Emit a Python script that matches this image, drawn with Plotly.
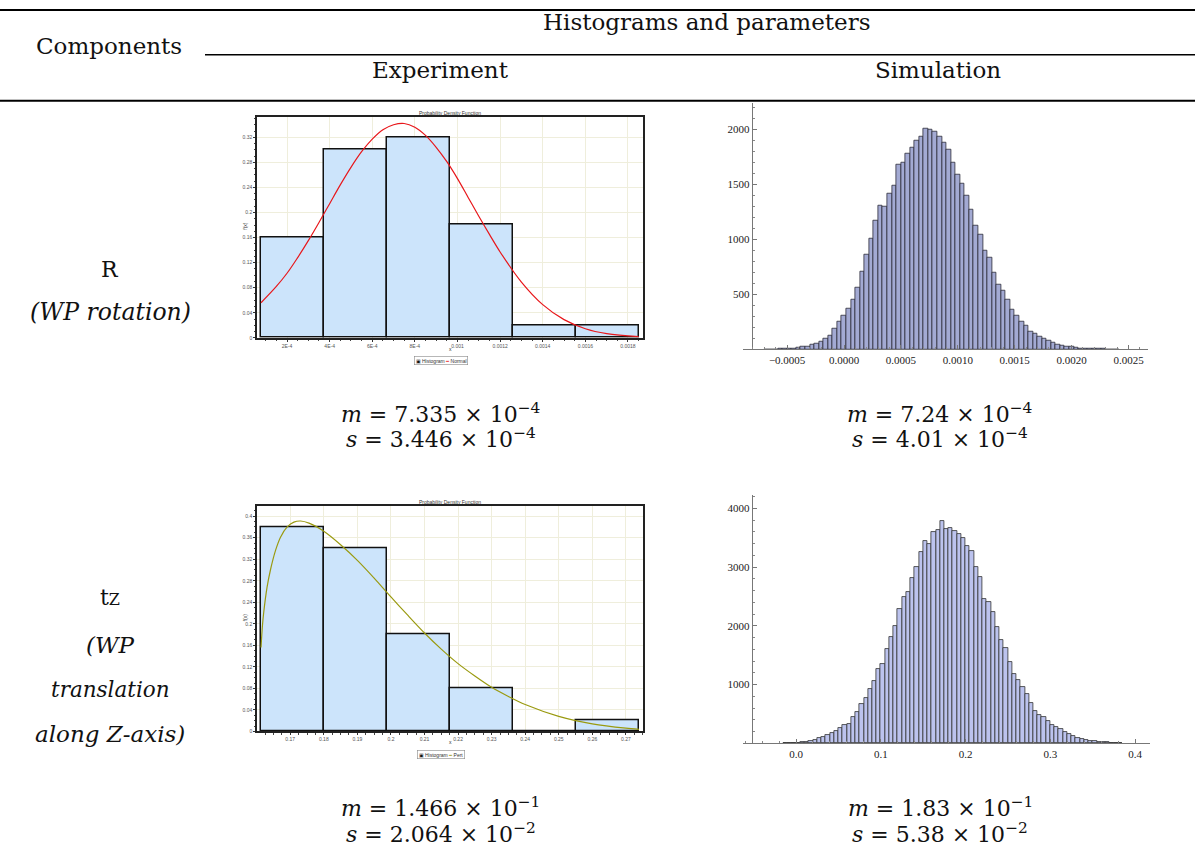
import plotly.graph_objects as go

W, H = 1195, 858

# ------------------------------
# Data
# ------------------------------

# Experiment, R: relative frequency per bin + fitted normal curve
exp_r_bin_start = 0.0000765
exp_r_bin_width = 0.0002956
exp_r_freq = [0.16, 0.30, 0.32, 0.18, 0.02, 0.02]
exp_r_fit_x = [0.000078, 0.00015, 0.0002, 0.00025, 0.0003, 0.00035, 0.0004, 0.00045,
               0.0005, 0.00055, 0.0006, 0.00065, 0.0007, 0.00075, 0.0008, 0.00085,
               0.0009, 0.00095, 0.001, 0.00105, 0.0011, 0.00115, 0.0012, 0.0013,
               0.0014, 0.0015, 0.0016, 0.0017, 0.00185]
exp_r_fit_y = [0.056, 0.082, 0.103, 0.128, 0.155, 0.184, 0.214, 0.244,
               0.272, 0.297, 0.317, 0.332, 0.340, 0.342, 0.336, 0.323,
               0.304, 0.281, 0.254, 0.224, 0.194, 0.165, 0.137, 0.089,
               0.053, 0.029, 0.0145, 0.0067, 0.0018]
exp_r_xtickvals = [0.0002, 0.0004, 0.0006, 0.0008, 0.001, 0.0012, 0.0014, 0.0016, 0.0018]
exp_r_xticktext = ["2E-4", "4E-4", "6E-4", "8E-4", "0.001", "0.0012", "0.0014", "0.0016", "0.0018"]
exp_r_ytickvals = [0, 0.04, 0.08, 0.12, 0.16, 0.2, 0.24, 0.28, 0.32]
exp_r_yticktext = ["0", "0.04", "0.08", "0.12", "0.16", "0.2", "0.24", "0.28", "0.32"]

# Experiment, tz: relative frequency per bin + fitted Pert curve
exp_t_bin_start = 0.1613
exp_t_bin_width = 0.01878
exp_t_freq = [0.38, 0.34, 0.18, 0.08, 0.001, 0.02]
exp_t_fit_x = [0.1613, 0.1617, 0.1621, 0.1631, 0.1641, 0.1656, 0.1671, 0.1691,
               0.1711, 0.1731, 0.1756, 0.18, 0.185, 0.19, 0.195, 0.20,
               0.205, 0.21, 0.215, 0.22, 0.225, 0.23, 0.235, 0.24,
               0.25, 0.26, 0.27, 0.2739]
exp_t_fit_y = [0.156, 0.195, 0.221, 0.268, 0.300, 0.336, 0.361, 0.380,
               0.389, 0.391, 0.387, 0.372, 0.347, 0.318, 0.285, 0.250,
               0.216, 0.183, 0.153, 0.126, 0.103, 0.082, 0.065, 0.050,
               0.028, 0.014, 0.006, 0.004]
exp_t_xtickvals = [0.17, 0.18, 0.19, 0.2, 0.21, 0.22, 0.23, 0.24, 0.25, 0.26, 0.27]
exp_t_xticktext = ["0.17", "0.18", "0.19", "0.2", "0.21", "0.22", "0.23", "0.24", "0.25", "0.26", "0.27"]
exp_t_ytickvals = [0, 0.04, 0.08, 0.12, 0.16, 0.2, 0.24, 0.28, 0.32, 0.36, 0.4]
exp_t_yticktext = ["0", "0.04", "0.08", "0.12", "0.16", "0.2", "0.24", "0.28", "0.32", "0.36", "0.4"]

# Simulation, R: counts per bin
sim_r_first_center = -0.00068
sim_r_bin_width = 0.00004
sim_r_counts = [1, 2, 3, 5, 6, 9, 12, 16, 22, 30,
                40, 55, 72, 95, 130, 185, 250, 310, 370, 450,
                560, 710, 860, 1010, 1170, 1310, 1300, 1420, 1490, 1680,
                1700, 1780, 1830, 1900, 1930, 2010, 2000, 1980, 1935, 1880,
                1815, 1700, 1590, 1505, 1400, 1270, 1125, 1040, 900, 830,
                700, 590, 530, 450, 365, 310, 250, 220, 165, 140,
                115, 98, 80, 60, 42, 33, 27, 22, 17, 12,
                10, 8, 6, 5, 4, 3, 2, 2]

# Simulation, tz: counts per bin
sim_t_first_center = -0.0125
sim_t_bin_width = 0.005
sim_t_counts = [5, 6, 10, 12, 18, 30, 40, 60, 85, 115,
                150, 175, 215, 255, 310, 325, 450, 540, 665, 780,
                920, 1060, 1270, 1345, 1610, 1810, 2005, 2290, 2490, 2570,
                2810, 3005, 3250, 3450, 3390, 3605, 3635, 3790, 3645, 3660,
                3620, 3565, 3490, 3365, 3280, 3000, 2825, 2465, 2400, 2235,
                1975, 1755, 1615, 1390, 1175, 1075, 960, 845, 680, 555,
                480, 450, 385, 315, 280, 245, 200, 160, 130, 90,
                72, 56, 45, 34, 28, 18, 16, 12, 10, 6]

# Parameters
exp_r_stats = ["<i>m</i> = 7.335 × 10<sup>−4</sup>", "<i>s</i> = 3.446 × 10<sup>−4</sup>"]
sim_r_stats = ["<i>m</i> = 7.24 × 10<sup>−4</sup>", "<i>s</i> = 4.01 × 10<sup>−4</sup>"]
exp_t_stats = ["<i>m</i> = 1.466 × 10<sup>−1</sup>", "<i>s</i> = 2.064 × 10<sup>−2</sup>"]
sim_t_stats = ["<i>m</i> = 1.83 × 10<sup>−1</sup>", "<i>s</i> = 5.38 × 10<sup>−2</sup>"]

# colours
exp_fill = "#cce4fb"
serif = "DejaVu Serif"


def px_x(px):
    return px / W


def px_y(py):
    return 1 - py / H


fig = go.Figure()

# ------------------------------
# Traces
# ------------------------------
fig.add_trace(go.Bar(
    x0=exp_r_bin_start + exp_r_bin_width / 2, dx=exp_r_bin_width, y=exp_r_freq,
    width=exp_r_bin_width, marker=dict(color=exp_fill, line=dict(color="#111", width=1.5)),
    xaxis="x", yaxis="y",
))
fig.add_trace(go.Scatter(
    x=exp_r_fit_x, y=exp_r_fit_y, mode="lines", line=dict(color="#e8171b", width=1.2, shape="spline"),
    xaxis="x", yaxis="y",
))
fig.add_trace(go.Bar(
    x0=sim_r_first_center, dx=sim_r_bin_width, y=sim_r_counts,
    width=sim_r_bin_width, marker=dict(color="#a3aad3", line=dict(color="#2c2c38", width=0.8)),
    xaxis="x2", yaxis="y2",
))
fig.add_trace(go.Bar(
    x0=exp_t_bin_start + exp_t_bin_width / 2, dx=exp_t_bin_width, y=exp_t_freq,
    width=exp_t_bin_width, marker=dict(color=exp_fill, line=dict(color="#111", width=1.5)),
    xaxis="x3", yaxis="y3",
))
fig.add_trace(go.Scatter(
    x=exp_t_fit_x, y=exp_t_fit_y, mode="lines", line=dict(color="#9a9a10", width=1.2, shape="spline", smoothing=0.8),
    xaxis="x3", yaxis="y3",
))
fig.add_trace(go.Bar(
    x0=sim_t_first_center, dx=sim_t_bin_width, y=sim_t_counts,
    width=sim_t_bin_width, marker=dict(color="#bcc3ee", line=dict(color="#333", width=0.8)),
    xaxis="x4", yaxis="y4",
))


# ------------------------------
# Axes
# ------------------------------
def exp_axes(xdom, ydom, xrange, yrange, xtv, xtt, ytv, ytt, xminor, yminor, xa, ya):
    tickfont = dict(family="Liberation Sans", size=5, color="#555")
    xax = dict(
        domain=xdom, range=xrange, anchor=ya, showline=True, mirror=True, linecolor="#222",
        linewidth=1.5, showgrid=True, gridcolor="#efeedc", gridwidth=1, zeroline=False,
        tickmode="array", tickvals=xtv, ticktext=xtt, ticks="outside", ticklen=2,
        tickcolor="#333", tickfont=tickfont, fixedrange=True,
        minor=dict(dtick=xminor, ticks="outside", ticklen=1.5, tickcolor="#444", showgrid=False),
    )
    yax = dict(
        domain=ydom, range=yrange, anchor=xa, showline=True, mirror=True, linecolor="#222",
        linewidth=1.5, showgrid=True, gridcolor="#efeedc", gridwidth=1, zeroline=False,
        tickmode="array", tickvals=ytv, ticktext=ytt, ticks="outside", ticklen=2,
        tickcolor="#333", tickfont=tickfont, fixedrange=True,
        minor=dict(dtick=yminor, ticks="outside", ticklen=1.5, tickcolor="#444", showgrid=False),
    )
    return xax, yax


def sim_axes(xdom, ydom, xrange, yrange, yaxis_pos, xdtick, xminor, xfmt, ytv, yminor, xa, ya):
    tickfont = dict(family="Liberation Serif", size=11, color="#222")
    xax = dict(
        domain=xdom, range=xrange, anchor=ya, showline=True, linecolor="#777", linewidth=1,
        showgrid=False, zeroline=False, dtick=xdtick, tick0=0, tickformat=xfmt,
        ticks="inside", ticklen=4, tickcolor="#777", tickfont=tickfont, fixedrange=True,
        minor=dict(dtick=xminor, tick0=0, ticks="inside", ticklen=2, tickcolor="#888"),
    )
    yax = dict(
        domain=ydom, range=yrange, anchor="free", position=yaxis_pos, showline=True,
        linecolor="#777", linewidth=1, showgrid=False, zeroline=False, tickmode="array",
        tickvals=ytv, ticks="inside", ticklen=4, tickcolor="#777", tickfont=tickfont,
        fixedrange=True,
        minor=dict(tickmode="linear", dtick=yminor, tick0=0, ticks="inside", ticklen=2, tickcolor="#888"),
    )
    return xax, yax


x1, y1 = exp_axes([px_x(257), px_x(643)], [px_y(339), px_y(117)], [0.0000592, 0.0018705], [0, 0.353],
                  exp_r_xtickvals, exp_r_xticktext, exp_r_ytickvals, exp_r_yticktext,
                  0.00005, 0.01, "x", "y")
x3, y3 = exp_axes([px_x(257), px_x(643)], [px_y(734), px_y(508)], [0.1601, 0.2751], [0, 0.4185],
                  exp_t_xtickvals, exp_t_xticktext, exp_t_ytickvals, exp_t_yticktext,
                  0.0025, 0.01, "x3", "y3")
x2, y2 = sim_axes([px_x(743.3), px_x(1148.3)], [px_y(350.7), px_y(103)], [-0.000885, 0.002674], [0, 2242],
                  px_x(751.7), 0.0005, 0.0001, ".4f", [500, 1000, 1500, 2000], 100, "x2", "y2")
x4, y4 = sim_axes([px_x(743.3), px_x(1150)], [px_y(746), px_y(496.7)], [-0.0622, 0.4177], [0, 4226],
                  px_x(751.7), 0.1, 0.02, ".1f", [1000, 2000, 3000, 4000], 200, "x4", "y4")

fig.update_layout(xaxis=x1, yaxis=y1, xaxis2=x2, yaxis2=y2, xaxis3=x3, yaxis3=y3, xaxis4=x4, yaxis4=y4)

# ------------------------------
# Table rules and text
# ------------------------------
rules = [(0, 1195, 10, 2), (205, 1195, 55, 1.6), (0, 1195, 101, 2)]
shapes = []
for xa_, xb_, yy, lw in rules:
    shapes.append(dict(type="line", xref="paper", yref="paper", x0=px_x(xa_), x1=px_x(xb_),
                       y0=px_y(yy), y1=px_y(yy), line=dict(color="black", width=lw)))

annotations = []


def add_text(txt, px, py, size=23, color="#111", family=serif, **kw):
    annotations.append(dict(text=txt, x=px_x(px), y=px_y(py), xref="paper", yref="paper",
                            showarrow=False, xanchor="center", yanchor="middle",
                            font=dict(family=family, size=size, color=color), **kw))


add_text("Histograms and parameters", 706, 22)
add_text("Components", 109, 46)
add_text("Experiment", 441, 70)
add_text("Simulation", 938, 70)
add_text("R", 110, 270, size=22)
add_text("<i>(WP rotation)</i>", 110, 313, size=23.5)
add_text("t<span style='font-size:16px'>Z</span>", 110, 600, size=22)
add_text("<i>(WP</i>", 110, 647, size=23)
add_text("<i>translation</i>", 110, 692, size=21.5)
add_text("<i>along Z-axis)</i>", 110, 737, size=23)

for (stats, cx, y0) in [(exp_r_stats, 441, 414), (sim_r_stats, 940, 414),
                        (exp_t_stats, 441, 810), (sim_t_stats, 940, 810)]:
    add_text(stats[0], cx, y0, size=22)
    add_text(stats[1], cx, y0 + 26, size=22)

# small labels of the experiment plots
tiny = "Liberation Sans"
for (ty, xy, ly, fx_lbl, fit_name, fit_col) in [(113, 350, 362, "f(x)", "Normal", "#e8171b"),
                                                (504, 745, 757, "f(x)", "Pert", "#9a9a10")]:
    add_text("Probability Density Function", 450, ty, size=5, color="#333", family=tiny)
    add_text("x", 450, xy, size=5, color="#333", family=tiny)
    add_text(fx_lbl, 245, (ty + xy) / 2 - 5, size=5, color="#333", family=tiny, textangle=-90)
    add_text("<span style='color:#111'>▣</span> Histogram <span style='color:%s'>━</span> %s" % (fit_col, fit_name),
             441, ly, size=5, color="#333", family=tiny,
             bordercolor="#888", borderwidth=0.6, borderpad=1, bgcolor="white")

fig.update_layout(
    width=W, height=H, autosize=False,
    margin=dict(l=0, r=0, t=0, b=0),
    paper_bgcolor="white", plot_bgcolor="white",
    showlegend=False, bargap=0,
    shapes=shapes, annotations=annotations,
)

fig.write_html("out.html", config={"displayModeBar": False},
               post_script="document.body.style.margin='0';")
